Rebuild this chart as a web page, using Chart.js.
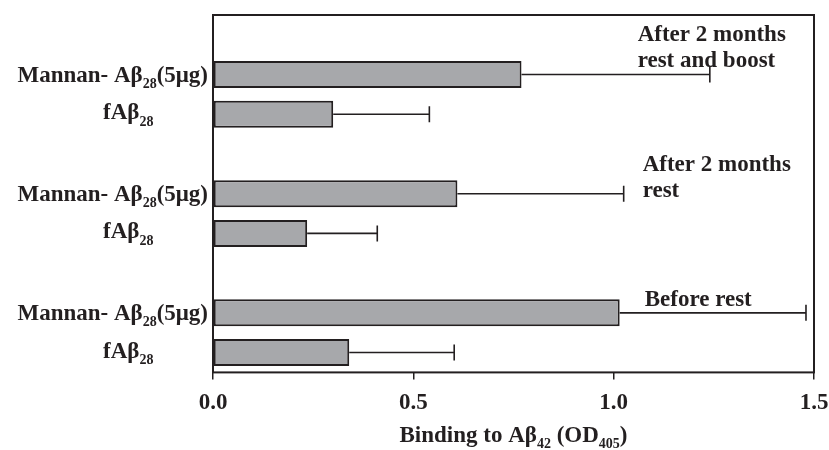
<!DOCTYPE html>
<html>
<head>
<meta charset="utf-8">
<script src="https://cdn.jsdelivr.net/npm/chart.js@4.4.1/dist/chart.umd.min.js"></script>
<style>
  html, body { margin: 0; padding: 0; background: #fff; }
  #wrap { width: 829px; height: 450px; position: relative; }
</style>
</head>
<body>
<div id="wrap"><canvas id="bindChart"></canvas></div>
<script>
// Antibody binding to Abeta42 — horizontal bars with one-sided error bars.
// Slots run top to bottom; empty strings are spacer rows between the groups.

const slotLabels = ['', 'Mannan- Aβ_28(5μg)', 'fAβ_28', '', 'Mannan- Aβ_28(5μg)', 'fAβ_28', '', 'Mannan- Aβ_28(5μg)', 'fAβ_28'];
const bindValues = [null, 0.77, 0.30, null, 0.61, 0.235, null, 1.015, 0.34];
const bindErrors = [null, 0.47, 0.24, null, 0.415, 0.175, null, 0.465, 0.262];
const xTicks = [0, 0.5, 1.0, 1.5];
const groupNotes = [
  { slot: 1, lines: ['After 2 months', 'rest and boost'] },
  { slot: 4, lines: ['After 2 months', 'rest'] },
  { slot: 7, lines: ['Before rest'] },
];
const xTitle = 'Binding to Aβ_42 (OD_405)';

const SERIF = '"Liberation Serif", "Times New Roman", serif';
const INK = '#231f20';
const TXT = 23;

// "Aβ_28" -> parts with subscript runs (digits right after the underscore)
function parseRich(str) {
  const parts = [];
  const re = /_(\d+)/g;
  let last = 0, m;
  while ((m = re.exec(str)) !== null) {
    if (m.index > last) parts.push({ t: str.slice(last, m.index), sub: false });
    parts.push({ t: m[1], sub: true });
    last = re.lastIndex;
  }
  if (last < str.length) parts.push({ t: str.slice(last), sub: false });
  return parts;
}

function drawRich(ctx, str, x, y, size, align) {
  const parts = parseRich(str);
  const subSize = Math.round(size * 0.62);
  const fontFor = (p) => `bold ${p.sub ? subSize : size}px ${SERIF}`;
  let total = 0;
  parts.forEach(p => { ctx.font = fontFor(p); total += ctx.measureText(p.t).width; });
  let cx = align === 'right' ? x - total : align === 'center' ? x - total / 2 : x;
  ctx.textAlign = 'left';
  ctx.textBaseline = 'alphabetic';
  parts.forEach(p => {
    ctx.font = fontFor(p);
    ctx.fillText(p.t, cx, p.sub ? y + size * 0.28 : y);
    cx += ctx.measureText(p.t).width;
  });
  return total;
}

const decorPlugin = {
  id: 'decor',
  afterDatasetsDraw(chart) {
    const { ctx, chartArea: a, scales: { x, y } } = chart;
    ctx.save();

    // one-sided error bars
    ctx.strokeStyle = INK;
    ctx.lineWidth = 1.6;
    bindValues.forEach((v, i) => {
      if (v === null) return;
      const yc = y.getPixelForValue(i);
      const x0 = x.getPixelForValue(v);
      const x1 = x.getPixelForValue(v + bindErrors[i]);
      ctx.beginPath();
      ctx.moveTo(x0, yc); ctx.lineTo(x1, yc);
      ctx.moveTo(x1, yc - 8); ctx.lineTo(x1, yc + 8);
      ctx.stroke();
    });

    // frame
    ctx.lineWidth = 2;
    ctx.strokeRect(a.left, a.top, a.right - a.left, a.bottom - a.top);

    // category labels
    ctx.fillStyle = INK;
    slotLabels.forEach((lab, i) => {
      if (!lab) return;
      const yc = y.getPixelForValue(i);
      if (lab.startsWith('Mannan')) drawRich(ctx, lab, a.left - 5, yc + 7, TXT, 'right');
      else drawRich(ctx, lab, 103, yc + 5, TXT, 'left');
    });

    // group notes
    groupNotes.forEach(n => {
      const yc = y.getPixelForValue(n.slot);
      const lx = x.getPixelForValue(1.0);
      if (n.slot === 1) {
        n.lines.forEach((t, k) => drawRich(ctx, t, lx + 24, yc - 34 + k * 26, TXT, 'left'));
      } else if (n.slot === 4) {
        n.lines.forEach((t, k) => drawRich(ctx, t, lx + 29, yc - 23 + k * 26, TXT, 'left'));
      } else {
        drawRich(ctx, n.lines[0], lx + 31, yc - 7, TXT, 'left');
      }
    });

    // x-axis title
    drawRich(ctx, xTitle, (a.left + a.right) / 2, 442, TXT, 'center');
    ctx.restore();
  }
};

new Chart(document.getElementById('bindChart'), {
  type: 'bar',
  data: {
    labels: slotLabels,
    datasets: [{
      data: bindValues,
      backgroundColor: '#a7a8ab',
      borderColor: INK,
      borderWidth: 2,
      borderSkipped: false,
      barPercentage: 0.68,
      categoryPercentage: 1.0,
    }]
  },
  options: {
    indexAxis: 'y',
    responsive: true,
    maintainAspectRatio: false,
    animation: false,
    layout: { padding: { left: 213, right: 15, top: 15, bottom: 23 } },
    plugins: { legend: { display: false }, tooltip: { enabled: false } },
    scales: {
      x: {
        type: 'linear',
        min: 0, max: 1.5,
        afterBuildTicks: (s) => { s.ticks = xTicks.map(v => ({ value: v })); },
        // keep the end labels from shrinking the plot area
        afterFit: (s) => { s.paddingLeft = 0; s.paddingRight = 0; },
        grid: { drawOnChartArea: false, tickLength: 7, color: INK, lineWidth: 1.5 },
        border: { display: false },
        ticks: {
          color: INK, padding: 10,
          font: { family: SERIF, size: TXT, weight: 'bold' },
          callback: (v) => Number(v).toFixed(1),
        },
      },
      y: {
        type: 'category',
        display: false,
      }
    }
  },
  plugins: [decorPlugin]
});
</script>
</body>
</html>
